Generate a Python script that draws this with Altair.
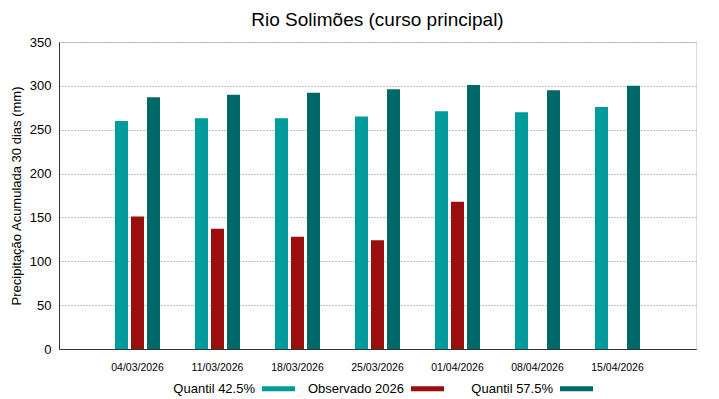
import altair as alt
import pandas as pd

dates = ["04/03/2026", "11/03/2026", "18/03/2026", "25/03/2026", "01/04/2026", "08/04/2026", "15/04/2026"]
series = ["Quantil 42.5%", "Observado 2026", "Quantil 57.5%"]
q425 = [260, 263, 263, 265, 271, 270, 276]
obs = [151, 137, 128, 124, 168, None, None]
q575 = [287, 290, 292, 296, 301, 295, 300]
colors = ["#009b9b", "#9b0e0e", "#006868"]

rows = []
for i, d in enumerate(dates):
    for s, vals in zip(series, [q425, obs, q575]):
        if vals[i] is not None:
            rows.append({"date": d, "series": s, "value": vals[i]})
df = pd.DataFrame(rows)

FRAME = "#333"

chart = alt.Chart(df).mark_bar().encode(
    x=alt.X("date:N", sort=dates,
            scale=alt.Scale(paddingInner=0.4375, paddingOuter=0.7),
            axis=alt.Axis(title=None, labelAngle=0, labelFontSize=10.5, labelPadding=13,
                          ticks=False, grid=False, domainColor=FRAME, labelColor="#000",
                          labelFont="Liberation Sans")),
    xOffset=alt.XOffset("series:N", sort=series, scale=alt.Scale(paddingInner=0.1875)),
    y=alt.Y("value:Q", scale=alt.Scale(domain=[0, 350]),
            axis=alt.Axis(title="Precipitação Acumulada 30 dias (mm)", values=list(range(0, 351, 50)),
                          titleFontSize=13, titleFontWeight="normal", titleFont="Liberation Sans",
                          titleColor="#000", labelFontSize=13, labelColor="#000",
                          labelFont="Liberation Sans", ticks=False, labelPadding=8,
                          gridColor="#888", gridDash=[1, 2], gridWidth=1,
                          domainColor=FRAME, titlePadding=6)),
    color=alt.Color("series:N", sort=series,
                    scale=alt.Scale(domain=series, range=colors),
                    legend=alt.Legend(title=None, orient="none", direction="horizontal",
                                      legendX=203, legendY=330,
                                      symbolType="M-1,-0.15L1,-0.15L1,0.15L-1,0.15Z",
                                      symbolSize=1089, symbolStrokeWidth=0,
                                      labelAlign="right", labelOffset={"expr": "-40"},
                                      labelFontSize=13, labelFont="Liberation Sans",
                                      labelColor="#000", columnPadding=12, gridAlign="all")),
).properties(
    width=637, height=307,
    title=alt.TitleParams("Rio Solimões (curso principal)", fontSize=19, fontWeight="normal",
                          font="Liberation Sans", color="#000", anchor="middle", offset=6),
).configure_view(stroke=FRAME, strokeWidth=1).configure(padding={"left": 2, "top": 3, "right": 5, "bottom": 0})

chart.save("out.html", embed_options={"renderer": "svg", "actions": False})
